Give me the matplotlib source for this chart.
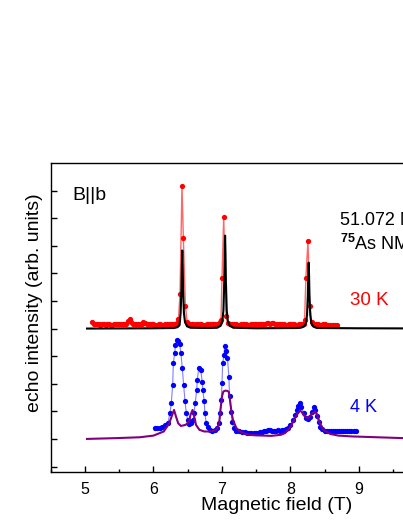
import matplotlib
matplotlib.use("Agg")
import matplotlib.pyplot as plt

plt.rcParams['font.family'] = ['Liberation Sans', 'DejaVu Sans']
plt.rcParams['mathtext.fontset'] = 'custom'
plt.rcParams['mathtext.rm'] = 'Liberation Sans'
plt.rcParams['mathtext.bf'] = 'Liberation Sans:bold'

# 30 K measured spectrum (red dots)
red_x = [5.10, 5.125, 5.15, 5.175, 5.20, 5.225, 5.25, 5.275, 5.30, 5.325, 5.35, 5.375,
         5.40, 5.425, 5.45, 5.475, 5.50, 5.525, 5.55, 5.575, 5.60, 5.625, 5.65,
         5.675, 5.70, 5.725, 5.75, 5.775, 5.80, 5.825, 5.85, 5.875, 5.90, 5.925, 5.95,
         5.975, 6.00, 6.025, 6.05, 6.075, 6.10, 6.125, 6.15, 6.175, 6.20, 6.225,
         6.25, 6.275, 6.30, 6.32, 6.34, 6.365, 6.387, 6.416, 6.436, 6.466, 6.49, 6.52,
         6.54, 6.56, 6.58, 6.60, 6.625, 6.65, 6.675, 6.70, 6.725, 6.75, 6.775, 6.80,
         6.825, 6.85, 6.875, 6.90, 6.92, 6.94, 6.965, 6.985, 7.00, 7.025, 7.06, 7.09,
         7.12, 7.15, 7.175, 7.20, 7.225, 7.25, 7.275, 7.30, 7.325, 7.35, 7.375, 7.40,
         7.425, 7.45, 7.475, 7.50, 7.525, 7.55, 7.575, 7.60, 7.625, 7.65, 7.675, 7.70,
         7.725, 7.75, 7.775, 7.80, 7.825, 7.85, 7.875, 7.90, 7.925, 7.95, 7.975, 8.00,
         8.025, 8.05, 8.075, 8.10, 8.125, 8.15, 8.17, 8.19, 8.205, 8.225, 8.255,
         8.28, 8.31, 8.33, 8.35, 8.375, 8.40, 8.425, 8.45, 8.475, 8.50, 8.525, 8.55,
         8.575, 8.60, 8.625, 8.65, 8.675]
red_y = [5.22, 5.18, 5.16, 5.15, 5.15, 5.14, 5.15, 5.15, 5.14, 5.15, 5.15, 5.14,
         5.14, 5.15, 5.15, 5.15, 5.15, 5.15, 5.16, 5.16, 5.18, 5.26, 5.34,
         5.24, 5.16, 5.15, 5.15, 5.15, 5.16, 5.18, 5.22, 5.21, 5.16, 5.15, 5.15,
         5.15, 5.15, 5.14, 5.14, 5.15, 5.15, 5.14, 5.14, 5.15, 5.15, 5.15,
         5.15, 5.15, 5.16, 5.17, 5.20, 5.35, 6.26, 10.18, 8.27, 5.82, 5.25, 5.17,
         5.16, 5.15, 5.15, 5.14, 5.15, 5.15, 5.15, 5.15, 5.14, 5.14, 5.15, 5.15,
         5.15, 5.15, 5.16, 5.16, 5.17, 5.18, 5.22, 5.32, 6.83, 9.04, 5.44, 5.20,
         5.16, 5.15, 5.15, 5.15, 5.14, 5.14, 5.15, 5.15, 5.15, 5.15, 5.14, 5.14,
         5.15, 5.15, 5.15, 5.15, 5.16, 5.16, 5.16, 5.17, 5.18, 5.20, 5.19, 5.18,
         5.19, 5.20, 5.18, 5.16, 5.15, 5.15, 5.15, 5.15, 5.14, 5.14, 5.15, 5.15,
         5.15, 5.15, 5.14, 5.14, 5.15, 5.15, 5.16, 5.18, 5.30, 6.85, 8.19,
         5.82, 5.25, 5.18, 5.16, 5.15, 5.15, 5.14, 5.14, 5.15, 5.15, 5.14, 5.14,
         5.13, 5.13, 5.12, 5.12, 5.12]

# 30 K simulated spectrum (black line)
black_x = [5.03, 6.00, 6.30, 6.35, 6.38, 6.396, 6.408, 6.414, 6.42, 6.426, 6.432, 6.444,
           6.46, 6.49, 6.54, 6.80, 6.93, 6.98, 7.005, 7.021, 7.033, 7.039, 7.045, 7.051,
           7.057, 7.069, 7.085, 7.115, 7.165, 7.50, 8.10, 8.15, 8.195, 8.225, 8.241, 8.253,
           8.259, 8.265, 8.271, 8.277, 8.289, 8.305, 8.335, 8.385, 9.00, 10.50]
black_y = [5.00, 5.01, 5.02, 5.05, 5.12, 5.57, 6.42, 7.26, 7.83, 7.26, 6.42, 5.57,
           5.23, 5.08, 5.03, 5.02, 5.03, 5.10, 5.27, 5.67, 6.69, 7.70, 8.37, 7.70,
           6.69, 5.67, 5.27, 5.10, 5.03, 5.01, 5.02, 5.03, 5.07, 5.19, 5.48, 6.20,
           6.91, 7.39, 6.91, 6.20, 5.48, 5.19, 5.07, 5.02, 5.01, 5.00]

# 4 K measured spectrum (blue dots)
blue_x = [6.015, 6.05, 6.09, 6.13, 6.17, 6.21, 6.24, 6.26, 6.28, 6.29, 6.31, 6.32, 6.34,
          6.36, 6.38, 6.40, 6.42, 6.44, 6.46, 6.48, 6.50, 6.52, 6.55, 6.58, 6.59, 6.61,
          6.63, 6.64, 6.66, 6.69, 6.71, 6.72, 6.74, 6.75, 6.77, 6.79, 6.82, 6.86, 6.90,
          6.93, 6.96, 6.97, 6.99, 7.00, 7.01, 7.03, 7.04, 7.06, 7.08, 7.10, 7.11, 7.13,
          7.15, 7.17, 7.21, 7.25, 7.29, 7.34, 7.37, 7.40, 7.43, 7.46, 7.49, 7.52, 7.55,
          7.58, 7.61, 7.64, 7.67, 7.70, 7.73, 7.76, 7.79, 7.82, 7.85, 7.88, 7.91, 7.94,
          7.97, 8.00, 8.04, 8.07, 8.09, 8.11, 8.14, 8.16, 8.19, 8.22, 8.25, 8.28, 8.31,
          8.34, 8.36, 8.38, 8.41, 8.43, 8.46, 8.50, 8.53, 8.56, 8.59, 8.62, 8.65, 8.68,
          8.71, 8.74, 8.77, 8.80, 8.83, 8.86, 8.89, 8.92, 8.95]
blue_y = [1.41, 1.39, 1.40, 1.44, 1.49, 1.57, 1.93, 2.30, 2.96, 3.75, 4.13, 4.41, 4.59,
          4.55, 4.45, 4.13, 3.56, 2.96, 2.36, 1.93, 1.69, 1.55, 1.57, 1.69, 1.94, 2.30,
          2.78, 3.14, 3.56, 3.50, 3.08, 2.78, 2.36, 1.93, 1.57, 1.43, 1.33, 1.30, 1.33,
          1.39, 1.57, 1.93, 2.42, 3.02, 3.75, 4.05, 4.38, 4.20, 3.93, 3.26, 2.54, 1.99,
          1.63, 1.39, 1.29, 1.27, 1.25, 1.24, 1.23, 1.23, 1.23, 1.23, 1.22, 1.23, 1.24,
          1.25, 1.27, 1.30, 1.33, 1.31, 1.30, 1.29, 1.30, 1.31, 1.30, 1.31, 1.33, 1.35,
          1.39, 1.51, 1.69, 1.87, 2.05, 2.20, 2.30, 2.17, 1.93, 1.75, 1.72, 1.81, 1.99,
          2.15, 2.05, 1.84, 1.63, 1.45, 1.35, 1.30, 1.29, 1.28, 1.29, 1.28, 1.28, 1.29,
          1.28, 1.27, 1.28, 1.28, 1.27, 1.27, 1.28, 1.27, 1.27]

# 4 K simulated spectrum (purple line)
purple_x = [5.03, 5.47, 5.80, 6.00, 6.15, 6.23, 6.27, 6.30, 6.33, 6.36, 6.40, 6.47, 6.52,
            6.54, 6.57, 6.59, 6.62, 6.67, 6.74, 6.81, 6.89, 6.93, 6.96, 6.98, 7.00, 7.02,
            7.05, 7.08, 7.10, 7.12, 7.14, 7.16, 7.21, 7.28, 7.38, 7.50, 7.72, 7.86, 7.92,
            7.99, 8.04, 8.09, 8.14, 8.16, 8.21, 8.25, 8.30, 8.35, 8.38, 8.43, 8.48, 8.58,
            8.70, 8.90, 9.63, 10.50]
purple_y = [1.00, 1.03, 1.06, 1.12, 1.27, 1.57, 1.85, 2.05, 1.80, 1.57, 1.47, 1.51, 1.63,
            1.87, 2.05, 1.87, 1.51, 1.33, 1.27, 1.27, 1.30, 1.38, 1.60, 2.10, 2.54, 2.72,
            2.75, 2.74, 2.70, 2.35, 1.95, 1.69, 1.39, 1.25, 1.15, 1.13, 1.11, 1.15, 1.21,
            1.39, 1.63, 1.87, 2.02, 1.99, 1.81, 1.75, 1.87, 1.99, 1.93, 1.57, 1.33, 1.18,
            1.12, 1.09, 1.03, 1.01]

x_ticks = [5, 6, 7, 8, 9]

fig = plt.figure(figsize=(4.03, 5.21), dpi=100)
ax = fig.add_axes([0.1259, 0.0940, 1.0199, 0.5931])

ax.plot(red_x, red_y, color='red', lw=1.0, alpha=0.6, zorder=2)
ax.plot(red_x, red_y, 'o', color='red', ms=3.8, mec='none', zorder=2)
ax.plot(black_x, black_y, color='black', lw=1.5, zorder=3)
ax.plot(blue_x, blue_y, color='blue', lw=0.8, alpha=0.5, zorder=2)
ax.plot(blue_x, blue_y, 'o', color='blue', ms=3.8, mec='none', zorder=2)
ax.plot(purple_x, purple_y, color='#800080', lw=1.5, zorder=3)

ax.set_xlim(4.5, 10.5)
ax.set_ylim(-0.2, 11)
ax.set_xticks(x_ticks)
ax.set_xticks([4.5 + 0.5 * i for i in range(13)], minor=True)
ax.set_yticks(range(11))
ax.set_yticklabels([])
ax.tick_params(axis='both', which='major', direction='in', length=4, width=1,
               labelsize=11.5, pad=7)
ax.tick_params(axis='both', which='minor', direction='in', length=2.5, width=1)
for s in ax.spines.values():
    s.set_linewidth(1.0)

ax.set_xlabel('Magnetic field (T)', fontsize=14)
ax.xaxis.set_label_coords(0.549, -0.082)
ax.set_ylabel('echo intensity (arb. units)', fontsize=14)
ax.yaxis.set_label_coords(-0.02, 0.547)

ax.text(4.81, 9.66, 'B||b', fontsize=14, va='baseline')
ax.text(8.72, 8.76, '51.072 MHz', fontsize=13, va='baseline')
ax.text(8.72, 7.85, r'$^{\mathbf{75}}$As NMR', fontsize=13, va='baseline')
ax.text(8.87, 5.86, '30 K', fontsize=13.5, color='red', va='baseline')
ax.text(8.87, 1.98, '4 K', fontsize=13, color='blue', va='baseline')

fig.savefig('out.png', dpi=100)
